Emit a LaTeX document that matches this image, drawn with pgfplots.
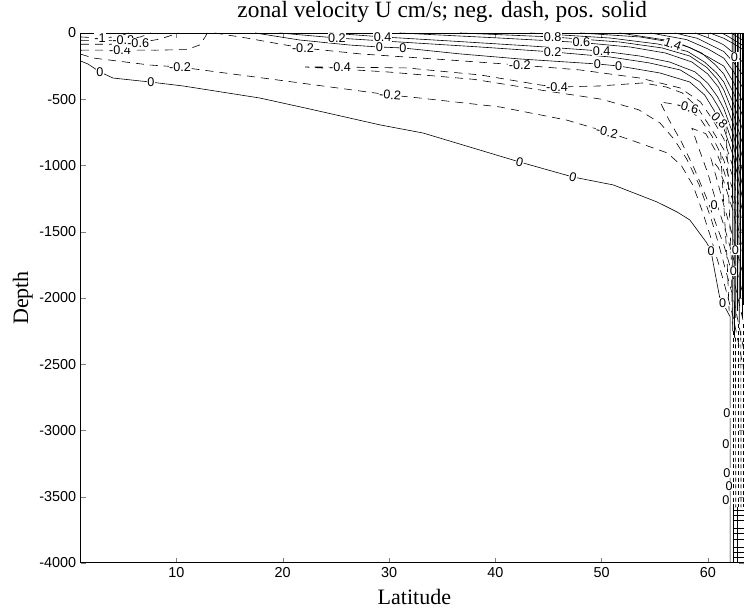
\documentclass[border=0pt]{standalone}
\usepackage{fontspec}
\setmainfont{Liberation Serif}
\newfontfamily\hv{Liberation Sans}
\usepackage{pgfplots}
\pgfplotsset{compat=1.18}
\tikzset{
  cpos/.style={black, line width=0.45pt},
  cneg/.style={black, line width=0.45pt, dash pattern=on 6pt off 4.5pt},
  cwall/.style={black, line width=0.55pt},
  cwalld/.style={black, line width=0.5pt, dash pattern=on 3pt off 2pt},
  clab/.style={font=\hv\fontsize{9.5}{10}\selectfont, fill=white, inner sep=0.4pt},
}
\begin{document}
\begin{tikzpicture}
\begin{axis}[
  name=ax,
  scale only axis,
  width=497.5pt, height=397.5pt,
  xmin=1, xmax=63.4, ymin=-4000, ymax=0,
  xtick={10,20,30,40,50,60},
  ytick={-4000,-3500,-3000,-2500,-2000,-1500,-1000,-500,0},
  /pgf/number format/assume math mode=true,
  /pgf/number format/1000 sep={},
  tick label style={font=\hv\fontsize{10.8}{12}\selectfont},
  tick align=inside,
  major tick length=4pt,
  axis line style={line width=0.6pt},
  title={zonal velocity U cm/s; neg. dash, pos. solid},
  title style={font=\fontsize{17.5}{20}\selectfont, at={(rel axis cs:0.545,1)}, anchor=base, yshift=5.5pt},
  xlabel={Latitude}, ylabel={Depth},
  xlabel style={font=\fontsize{16.5}{19}\selectfont, at={(rel axis cs:0.503,0)}, anchor=base, yshift=-31pt},
  ylabel style={font=\fontsize{16.5}{19}\selectfont, at={([xshift=-32.5pt]rel axis cs:0,0.5)}, anchor=south},
  clip=true,
]
% ---- main zero contour
\addplot[cpos] coordinates {(1,-212) (1.67,-234) (2.80,-294) (4.03,-340) (7.51,-370) (10.63,-400) (17.85,-491) (22.56,-574) (29.16,-694) (33.2,-755) (42.3,-974) (47.3,-1087) (51.1,-1147) (55.2,-1275) (57.1,-1351) (58.3,-1411) (59.0,-1487) (59.9,-1585) (60.3,-1645) (60.5,-1736) (60.8,-1864) (61.1,-1992) (61.4,-2038) (62.1,-2143) (62.1,-4000)};
% ---- upper zero contour
\addplot[cpos] coordinates {(17.4,0) (21.6,-53) (26.3,-91) (29.1,-106) (31.3,-113) (36.7,-158) (42.3,-196) (49.6,-234) (51.6,-249) (55.5,-302) (58.3,-370) (59.7,-468) (60.7,-600) (61.5,-720) (62.4,-930) (63.4,-1300)};
% ---- positive contours
\addplot[cpos] coordinates {(19.7,0) (25.1,-38) (31.0,-68) (38.6,-106) (45.4,-143) (50.8,-181) (54.5,-226) (57.4,-279) (59.25,-370) (60.4,-480) (61.0,-560) (61.5,-640) (62.4,-850) (63.4,-1200)};
\addplot[cpos] coordinates {(24.4,0) (29.4,-30) (35.7,-60) (43.3,-98) (50.0,-136) (53.6,-174) (56.4,-219) (58.8,-294) (60.0,-380) (60.9,-480) (61.5,-570) (62.4,-770) (63.4,-1090)};
\addplot[cpos] coordinates {(31.0,0) (40.4,-38) (48.1,-72) (52.7,-106) (56.0,-151) (58.5,-219) (60.0,-310) (61.0,-410) (61.5,-500) (62.4,-690) (63.4,-980)};
\addplot[cpos] coordinates {(36.7,0) (45.4,-30) (51.7,-68) (55.7,-113) (58.3,-174) (59.9,-260) (60.9,-350) (61.5,-430) (62.4,-610) (63.4,-870)};
\addplot[cpos] coordinates {(43.3,0) (50.8,-38) (55.3,-83) (58.1,-140) (59.7,-220) (60.8,-300) (61.5,-370) (62.4,-530) (63.4,-760)};
\addplot[cpos] coordinates {(48.0,0) (53.6,-30) (57.4,-80) (59.4,-150) (60.7,-240) (61.5,-310) (62.4,-450) (63.4,-650)};
\addplot[cpos] coordinates {(51.7,0) (56.0,-53) (58.3,-110) (60.0,-180) (61.5,-250) (62.4,-370) (63.4,-540)};
\addplot[cpos] coordinates {(54.6,0) (58.0,-50) (60.0,-120) (61.5,-190) (62.4,-290) (63.4,-430)};
\addplot[cpos] coordinates {(56.9,0) (59.0,-40) (60.5,-100) (61.5,-140) (62.4,-220) (63.4,-330)};
\addplot[cpos] coordinates {(58.8,0) (60.0,-35) (61.0,-70) (61.5,-90) (62.4,-150) (63.4,-230)};
\addplot[cpos] coordinates {(60.2,0) (61.0,-25) (61.5,-40) (62.4,-80) (63.4,-130)};
\addplot[cpos] coordinates {(61.3,0) (62.0,-30) (62.6,-60) (63.4,-100)};
\addplot[cpos] coordinates {(62.2,0) (62.8,-30) (63.4,-60)};
% ---- negative contours, surface region at left
\addplot[cneg] coordinates {(1,-30) (2.8,-38) (4.5,-28) (5.5,0)};
\addplot[cneg] coordinates {(1,-55) (3,-58) (5,-53) (6.6,-30) (7.6,0)};
\addplot[cneg] coordinates {(1,-85) (4,-85) (6.4,-75) (8.5,-45) (10.2,0)};
\addplot[cneg] coordinates {(1,-130) (4.7,-128) (8,-130) (11,-125) (12.2,-90) (12.7,-30) (12.9,0)};
% upper -0.2
\addplot[cneg] coordinates {(13.6,0) (16.6,-38) (19.7,-83) (21.9,-113) (27.3,-158) (35.7,-204) (42.3,-242) (47.96,-279) (53.6,-340) (57.4,-415) (59.3,-520) (60.5,-660) (61.5,-800) (62.4,-1020) (63.4,-1400)};
% lower -0.2
\addplot[cneg] coordinates {(1,-160) (2.16,-189) (7.51,-242) (10.33,-257) (13.15,-287) (20.96,-370) (30.1,-468) (32.9,-491) (40.4,-558) (46.7,-657) (50.5,-747) (53.0,-815) (56.2,-906) (57.5,-1000) (58.6,-1150) (59.5,-1350) (60.3,-1550) (61.0,-1740) (61.5,-1880) (62.4,-2150) (63.4,-2550)};
% -0.4 tongue
\addplot[cneg] coordinates {(63.4,-1500) (62.4,-1100) (61.5,-880) (60.3,-720) (59.0,-560) (57.6,-453) (56.1,-408) (53.9,-377) (49.8,-400) (45.8,-408) (44.2,-392) (38.6,-317) (31.7,-264) (25.4,-257) (22.1,-257) (26,-275) (30,-295) (38,-350) (45,-440) (50,-500) (53.5,-580) (55.5,-680) (56.8,-800) (58.0,-950) (59.2,-1150) (60.3,-1400) (61.0,-1590) (61.5,-1740) (62.4,-2000) (63.4,-2400)};
% -0.6 tongue
\addplot[cneg] coordinates {(63.4,-1600) (62.4,-1200) (61.5,-960) (60.4,-780) (59.3,-650) (58.1,-570) (57.0,-540) (55.5,-520) (56.3,-650) (57.5,-820) (58.7,-1020) (59.9,-1250) (60.8,-1450) (61.5,-1600) (62.4,-1850) (63.4,-2200)};
% -0.8 tongue
\addplot[cneg] coordinates {(63.4,-1700) (62.4,-1280) (61.5,-1040) (60.8,-900) (59.8,-760) (58.5,-720) (59.1,-860) (60.0,-1060) (60.8,-1280) (61.5,-1450) (62.4,-1700) (63.4,-2000)};
% -1.0 tongue
\addplot[cneg] coordinates {(63.4,-1750) (62.4,-1350) (61.5,-1120) (61.0,-1020) (60.3,-950) (60.9,-1120) (61.5,-1300) (62.4,-1550) (63.4,-1850)};
% further dashed contours near the wall
\addplot[cneg] coordinates {(61.2,-900) (61.5,-1300) (61.8,-1700) (62.0,-2100)};
\addplot[cneg] coordinates {(61.7,-700) (61.95,-1200) (62.2,-1700) (62.3,-2200)};
% ---- dense wall band (upper)
\addplot[cwall] coordinates {(62.3,0) (62.35,-2250)};
\addplot[cwall] coordinates {(62.45,0) (62.5,-2300)};
\addplot[cwall] coordinates {(62.6,0) (62.62,-2150)};
\addplot[cwall] coordinates {(62.75,0) (62.75,-2100)};
\addplot[cwall] coordinates {(62.9,0) (62.95,-2200)};
\addplot[cwall] coordinates {(63.05,0) (63.05,-2000)};
\addplot[cwall] coordinates {(63.2,0) (63.2,-2150)};
\addplot[cwall] coordinates {(63.32,0) (63.32,-2050)};
% ---- wall band (lower)
\addplot[cwalld] coordinates {(62.35,-2250) (62.35,-3580)};
\addplot[cwalld] coordinates {(62.6,-2300) (62.62,-3580)};
\addplot[cwalld] coordinates {(62.85,-2200) (62.85,-3580)};
\addplot[cwalld] coordinates {(63.1,-2250) (63.12,-3580)};
\addplot[cwalld] coordinates {(63.32,-2200) (63.32,-3580)};
\addplot[cpos] coordinates {(62.35,-3580) (62.35,-4000)};
\addplot[cpos] coordinates {(62.8,-3580) (62.8,-4000)};
\addplot[cpos] coordinates {(62.35,-3600) (63.4,-3600)};
\addplot[cpos] coordinates {(62.35,-3640) (63.4,-3640)};
\addplot[cpos] coordinates {(62.35,-3680) (63.4,-3680)};
\addplot[cpos] coordinates {(62.35,-3740) (63.4,-3740)};
\addplot[cpos] coordinates {(62.35,-3780) (63.4,-3780)};
\addplot[cpos] coordinates {(62.35,-3820) (63.4,-3820)};
\addplot[cpos] coordinates {(62.35,-3880) (63.4,-3880)};
\addplot[cpos] coordinates {(62.35,-3920) (63.4,-3920)};
\addplot[cpos] coordinates {(62.35,-3960) (63.4,-3960)};
% ---- labels
\node[clab] at (axis cs:2.8,-294) {0};
\node[clab] at (axis cs:7.6,-368) {0};
\node[clab, rotate=-15] at (axis cs:42.3,-974) {0};
\node[clab, rotate=-15] at (axis cs:47.3,-1087) {0};
\node[clab] at (axis cs:60.3,-1645) {0};
\node[clab] at (axis cs:61.4,-2038) {0};
\node[clab] at (axis cs:21.9,-113) {-0.2};
\node[clab] at (axis cs:42.3,-242) {-0.2};
\node[clab] at (axis cs:10.33,-257) {-0.2};
\node[clab, rotate=-5] at (axis cs:30.1,-468) {-0.2};
\node[clab, rotate=-12] at (axis cs:50.5,-747) {-0.2};
\node[clab] at (axis cs:4.7,-128) {-0.4};
\node[clab] at (axis cs:25.4,-257) {-0.4};
\node[clab] at (axis cs:45.8,-408) {-0.4};
\node[clab] at (axis cs:29.1,-106) {0};
\node[clab] at (axis cs:31.3,-113) {0};
\node[clab] at (axis cs:49.6,-234) {0};
\node[clab] at (axis cs:51.6,-249) {0};
\node[clab] at (axis cs:25.1,-38) {0.2};
\node[clab] at (axis cs:45.4,-143) {0.2};
\node[clab] at (axis cs:29.4,-30) {0.4};
\node[clab] at (axis cs:50.0,-136) {0.4};
\node[clab] at (axis cs:48.1,-72) {0.6};
\node[clab] at (axis cs:45.4,-30) {0.8};
\node[clab, rotate=-20] at (axis cs:56.7,-85) {1.4};
\node[clab, rotate=-15] at (axis cs:58.1,-560) {-0.6};
\node[clab] at (axis cs:2.8,-38) {-1};
\node[clab] at (axis cs:5.0,-55) {-0.8};
\node[clab] at (axis cs:6.4,-78) {-0.6};
\node[clab, rotate=-45] at (axis cs:61.1,-660) {0.8};
\node[clab] at (axis cs:60.6,-1300) {0};
\node[clab] at (axis cs:62.6,-1640) {0};
\node[clab] at (axis cs:62.4,-1800) {0};
\node[clab] at (axis cs:61.8,-2870) {0};
\node[clab] at (axis cs:61.7,-3100) {0};
\node[clab] at (axis cs:61.8,-3320) {0};
\node[clab] at (axis cs:62.0,-3420) {0};
\node[clab] at (axis cs:61.7,-3530) {0};
\node[clab] at (axis cs:62.5,-180) {0};
\end{axis}
\pgfresetboundingbox
\path[use as bounding box] ([xshift=-60.6pt,yshift=-36.75pt]ax.south west) rectangle ([yshift=24.75pt]ax.north east);
\end{tikzpicture}
\end{document}
